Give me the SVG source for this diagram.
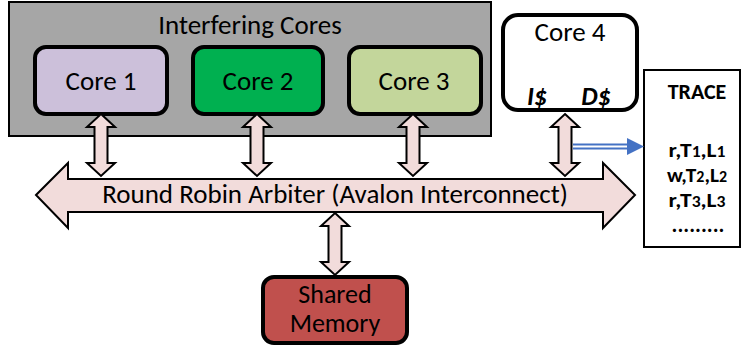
<svg xmlns="http://www.w3.org/2000/svg" width="741" height="347" viewBox="0 0 741 347">
  <style>
    text { font-family: "Carlito", "Open Sans", "Liberation Sans", sans-serif; fill: #000; }
    .lbl { font-size: 27px; text-anchor: middle; }
    .mem { font-size: 26px; text-anchor: middle; }
    .core { stroke: #000; stroke-width: 4; }
    .dbl { fill: #f2dcdb; stroke: #000; stroke-width: 2; stroke-linejoin: miter; }
    .trace { font-size: 22px; font-weight: bold; text-anchor: middle; }
    .entry { font-size: 20px; font-weight: bold; text-anchor: middle; }
    .sub { font-size: 15px; }
    .cache { font-size: 26px; font-weight: bold; font-style: italic; text-anchor: middle; }
  </style>
  <defs>
    <!-- vertical two-headed block arrow, tips at y=0 and y=62 -->
    <path id="vArrow" class="dbl" d="M0,0 L14,13 L6.5,13 L6.5,49 L14,49 L0,62 L-14,49 L-6.5,49 L-6.5,13 L-14,13 Z"/>
  </defs>

  <!-- interfering cores container -->
  <g id="interfering">
    <rect x="9" y="2" width="482" height="134" fill="#a6a6a6" stroke="#000" stroke-width="2"/>
    <text class="lbl" x="250" y="34">Interfering Cores</text>
  </g>

  <g id="core1">
    <rect class="core" x="35" y="47" width="132" height="67" rx="11" fill="#ccc0da"/>
    <text class="lbl" x="101" y="90">Core 1</text>
  </g>
  <g id="core2">
    <rect class="core" x="193" y="47" width="130" height="67" rx="11" fill="#00b050"/>
    <text class="lbl" x="258" y="90">Core 2</text>
  </g>
  <g id="core3">
    <rect class="core" x="349" y="47" width="132" height="67" rx="11" fill="#c3d69b"/>
    <text class="lbl" x="414" y="90">Core 3</text>
  </g>

  <g id="core4">
    <rect class="core" x="503" y="15" width="134" height="95" rx="15" fill="#fff"/>
    <text class="lbl" x="570" y="41">Core 4</text>
    <text class="cache" x="537" y="105">I$</text>
    <text class="cache" x="596" y="105">D$</text>
  </g>

  <g id="trace">
    <rect x="644" y="70" width="96" height="177" fill="#fff" stroke="#000" stroke-width="2"/>
    <text class="trace" x="697" y="99">TRACE</text>
    <text class="entry" x="697" y="157" textLength="57" lengthAdjust="spacingAndGlyphs">r,T<tspan class="sub">1</tspan>,L<tspan class="sub">1</tspan></text>
    <text class="entry" x="697" y="182" textLength="60" lengthAdjust="spacingAndGlyphs">w,T<tspan class="sub">2</tspan>,L<tspan class="sub">2</tspan></text>
    <text class="entry" x="697" y="207" textLength="57" lengthAdjust="spacingAndGlyphs">r,T<tspan class="sub">3</tspan>,L<tspan class="sub">3</tspan></text>
    <text class="trace" x="698" y="232" font-size="14">.........</text>
  </g>

  <g id="arbiter">
    <path class="dbl" d="M36,195 L68,163 L68,179 L603,179 L603,163 L635,195 L603,228 L603,212 L68,212 L68,228 Z"/>
    <text class="lbl" x="335" y="203">Round Robin Arbiter (Avalon Interconnect)</text>
  </g>

  <g id="shared-memory">
    <rect class="core" x="263" y="277" width="144" height="66" rx="11" fill="#c0504d"/>
    <text class="mem" x="335" y="303">Shared</text>
    <text class="mem" x="335" y="332">Memory</text>
  </g>

  <g id="connectors">
    <use href="#vArrow" x="101" y="114"/>
    <use href="#vArrow" x="257" y="114"/>
    <use href="#vArrow" x="413" y="114"/>
    <use href="#vArrow" x="565" y="114"/>
    <use href="#vArrow" x="335" y="213"/>
    <!-- trace output: compound blue line with filled head -->
    <line x1="573" y1="146.5" x2="629" y2="146.5" stroke="#4472c4" stroke-width="6"/>
    <line x1="573" y1="146.5" x2="629" y2="146.5" stroke="#fff" stroke-width="2.2"/>
    <path d="M627,138 L644,146.5 L627,155 Z" fill="#4472c4"/>
  </g>
</svg>
